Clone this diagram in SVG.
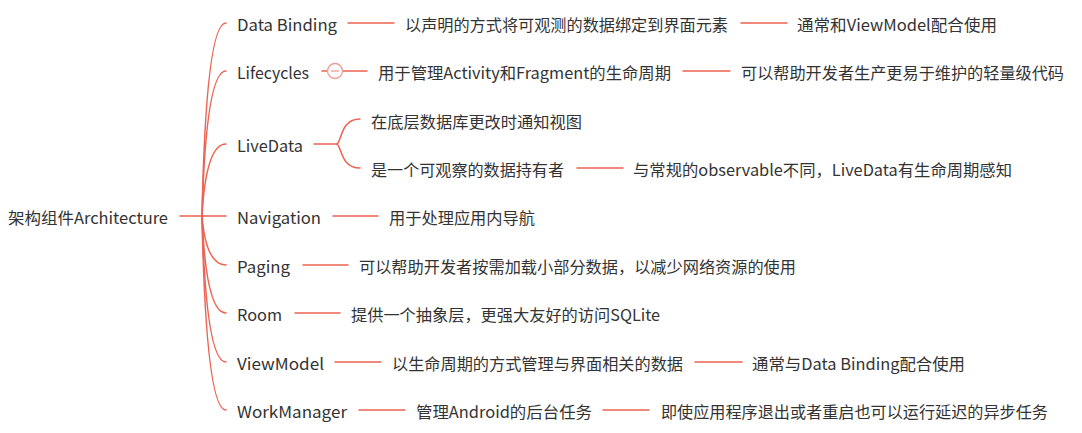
<svg xmlns="http://www.w3.org/2000/svg" width="1082" height="433" viewBox="0 0 1082 433">
<style>
text{font-family:"Noto Sans CJK SC","Noto Sans",sans-serif;font-size:16px;fill:#333333}
.c{fill:none;stroke:#eb6352;stroke-width:1.5;stroke-linecap:round}
.fold{fill:#ffffff;stroke:#f29b90;stroke-width:1.3}
</style>
<rect width="1082" height="433" fill="#ffffff"/>
<g id="connectors">
<path class="c" d="M180,216 H202"/>
<path class="c" d="M202,216 Q206,23 226,23"/>
<path class="c" d="M202,216 Q206,71 226,71"/>
<path class="c" d="M202,216 Q206,144 226,144"/>
<path class="c" d="M202,216 H226"/>
<path class="c" d="M202,216 Q206,265 226,265"/>
<path class="c" d="M202,216 Q206,313 226,313"/>
<path class="c" d="M202,216 Q206,362 226,362"/>
<path class="c" d="M202,216 Q206,410 226,410"/>
<path class="c" d="M348,23 H394"/>
<path class="c" d="M741,23 H787"/>
<path class="c" d="M322,71 H367"/>
<path class="c" d="M683,71 H730"/>
<path class="c" d="M314,144 H337"/>
<path class="c" d="M337,144 C342,140 341,119 360,119"/>
<path class="c" d="M337,144 C342,148 341,168 360,168"/>
<path class="c" d="M577,168 H623"/>
<path class="c" d="M333,216 H378"/>
<path class="c" d="M303,265 H348"/>
<path class="c" d="M295,313 H340"/>
<path class="c" d="M335,362 H381"/>
<path class="c" d="M695,362 H742"/>
<path class="c" d="M359,410 H405"/>
<path class="c" d="M603,410 H649"/>
</g>
<g id="root"><text x="8" y="224" textLength="160" lengthAdjust="spacingAndGlyphs">架构组件Architecture</text></g>
<g id="databinding"><text x="237" y="31" textLength="100" lengthAdjust="spacingAndGlyphs">Data Binding</text></g>
<g id="databinding-1"><text x="405" y="31" textLength="323" lengthAdjust="spacingAndGlyphs">以声明的方式将可观测的数据绑定到界面元素</text></g>
<g id="databinding-2"><text x="797" y="31" textLength="200" lengthAdjust="spacingAndGlyphs">通常和ViewModel配合使用</text></g>
<g id="lifecycles"><text x="237" y="79" textLength="72" lengthAdjust="spacingAndGlyphs">Lifecycles</text></g>
<g id="lifecycles-fold"><circle class="fold" cx="335" cy="71" r="7.5"/><path d="M331,71 H339" stroke="#f29b90" stroke-width="1.3"/></g>
<g id="lifecycles-1"><text x="378" y="79" textLength="293" lengthAdjust="spacingAndGlyphs">用于管理Activity和Fragment的生命周期</text></g>
<g id="lifecycles-2"><text x="741" y="79" textLength="323" lengthAdjust="spacingAndGlyphs">可以帮助开发者生产更易于维护的轻量级代码</text></g>
<g id="livedata"><text x="237" y="152" textLength="66" lengthAdjust="spacingAndGlyphs">LiveData</text></g>
<g id="livedata-1"><text x="371" y="128" textLength="211" lengthAdjust="spacingAndGlyphs">在底层数据库更改时通知视图</text></g>
<g id="livedata-2"><text x="371" y="176" textLength="193" lengthAdjust="spacingAndGlyphs">是一个可观察的数据持有者</text></g>
<g id="livedata-3"><text x="633" y="176" textLength="379" lengthAdjust="spacingAndGlyphs">与常规的observable不同，LiveData有生命周期感知</text></g>
<g id="navigation"><text x="237" y="224" textLength="84" lengthAdjust="spacingAndGlyphs">Navigation</text></g>
<g id="navigation-1"><text x="389" y="224" textLength="146" lengthAdjust="spacingAndGlyphs">用于处理应用内导航</text></g>
<g id="paging"><text x="237" y="273" textLength="53" lengthAdjust="spacingAndGlyphs">Paging</text></g>
<g id="paging-1"><text x="359" y="273" textLength="437" lengthAdjust="spacingAndGlyphs">可以帮助开发者按需加载小部分数据，以减少网络资源的使用</text></g>
<g id="room"><text x="237" y="321" textLength="45" lengthAdjust="spacingAndGlyphs">Room</text></g>
<g id="room-1"><text x="351" y="321" textLength="309" lengthAdjust="spacingAndGlyphs">提供一个抽象层，更强大友好的访问SQLite</text></g>
<g id="viewmodel"><text x="237" y="370" textLength="87" lengthAdjust="spacingAndGlyphs">ViewModel</text></g>
<g id="viewmodel-1"><text x="392" y="370" textLength="291" lengthAdjust="spacingAndGlyphs">以生命周期的方式管理与界面相关的数据</text></g>
<g id="viewmodel-2"><text x="752" y="370" textLength="213" lengthAdjust="spacingAndGlyphs">通常与Data Binding配合使用</text></g>
<g id="workmanager"><text x="237" y="418" textLength="110" lengthAdjust="spacingAndGlyphs">WorkManager</text></g>
<g id="workmanager-1"><text x="416" y="418" textLength="176" lengthAdjust="spacingAndGlyphs">管理Android的后台任务</text></g>
<g id="workmanager-2"><text x="661" y="418" textLength="387" lengthAdjust="spacingAndGlyphs">即使应用程序退出或者重启也可以运行延迟的异步任务</text></g>
</svg>
